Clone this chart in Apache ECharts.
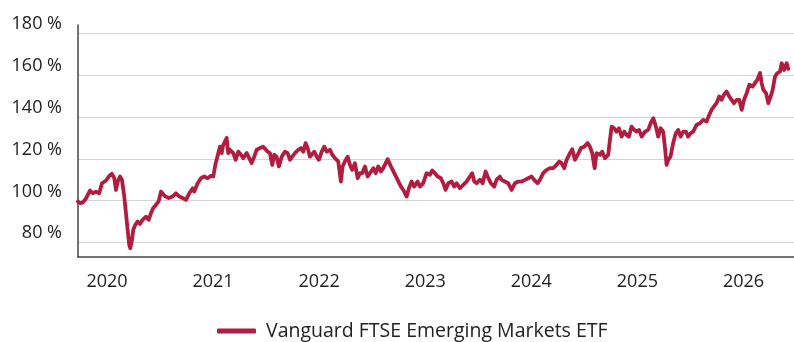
<!DOCTYPE html>
<html>
<head>
<meta charset="utf-8">
<script src="https://cdn.jsdelivr.net/npm/echarts@6/dist/echarts.min.js"></script>
<style>
  html, body { margin: 0; padding: 0; background: #fff; }
  #chart { width: 794px; height: 342px; }
</style>
</head>
<body>
<div id="chart"></div>
<script>
// Time as fractional calendar year, value as % of starting level
const years = [
  2019.727, 2019.746, 2019.771, 2019.802, 2019.840, 2019.865, 2019.896, 2019.927, 2019.953, 2019.991,
  2020.022, 2020.047, 2020.069, 2020.085, 2020.101, 2020.123, 2020.141, 2020.163, 2020.179, 2020.195,
  2020.210, 2020.220, 2020.236, 2020.248, 2020.267, 2020.289, 2020.311, 2020.336, 2020.368, 2020.393,
  2020.415, 2020.436, 2020.462, 2020.487, 2020.509, 2020.525, 2020.549, 2020.582, 2020.619, 2020.650,
  2020.681, 2020.713, 2020.745, 2020.776, 2020.808, 2020.823, 2020.855, 2020.886, 2020.917, 2020.949,
  2020.980, 2021.002, 2021.021, 2021.065, 2021.081, 2021.096, 2021.128, 2021.143, 2021.159, 2021.190,
  2021.213, 2021.238, 2021.263, 2021.285, 2021.317, 2021.332, 2021.364, 2021.388, 2021.411, 2021.442,
  2021.473, 2021.489, 2021.515, 2021.536, 2021.558, 2021.577, 2021.599, 2021.621, 2021.647, 2021.678,
  2021.703, 2021.725, 2021.747, 2021.772, 2021.803, 2021.828, 2021.850, 2021.873, 2021.892, 2021.913,
  2021.929, 2021.954, 2021.977, 2021.998, 2022.024, 2022.048, 2022.071, 2022.102, 2022.124, 2022.149,
  2022.180, 2022.205, 2022.221, 2022.243, 2022.269, 2022.290, 2022.312, 2022.337, 2022.363, 2022.385,
  2022.406, 2022.432, 2022.457, 2022.479, 2022.510, 2022.533, 2022.557, 2022.583, 2022.604, 2022.627,
  2022.646, 2022.677, 2022.708, 2022.740, 2022.771, 2022.802, 2022.825, 2022.846, 2022.872, 2022.896,
  2022.928, 2022.950, 2022.981, 2023.013, 2023.044, 2023.066, 2023.091, 2023.117, 2023.148, 2023.170,
  2023.192, 2023.217, 2023.249, 2023.273, 2023.296, 2023.327, 2023.358, 2023.390, 2023.421, 2023.443,
  2023.462, 2023.484, 2023.516, 2023.541, 2023.569, 2023.588, 2023.619, 2023.650, 2023.673, 2023.704,
  2023.720, 2023.751, 2023.782, 2023.814, 2023.845, 2023.877, 2023.909, 2023.940, 2023.971, 2024.003,
  2024.027, 2024.059, 2024.081, 2024.112, 2024.144, 2024.175, 2024.206, 2024.238, 2024.263, 2024.285,
  2024.310, 2024.333, 2024.364, 2024.386, 2024.411, 2024.437, 2024.468, 2024.499, 2024.531, 2024.552,
  2024.574, 2024.597, 2024.615, 2024.647, 2024.668, 2024.694, 2024.725, 2024.741, 2024.757, 2024.781,
  2024.803, 2024.826, 2024.851, 2024.876, 2024.898, 2024.920, 2024.945, 2024.970, 2024.993, 2025.015,
  2025.040, 2025.071, 2025.102, 2025.125, 2025.150, 2025.174, 2025.196, 2025.219, 2025.243, 2025.259,
  2025.275, 2025.290, 2025.312, 2025.337, 2025.362, 2025.384, 2025.407, 2025.431, 2025.457, 2025.478,
  2025.501, 2025.526, 2025.557, 2025.589, 2025.620, 2025.652, 2025.677, 2025.699, 2025.721, 2025.746,
  2025.771, 2025.794, 2025.815, 2025.840, 2025.865, 2025.888, 2025.910, 2025.935, 2025.960, 2025.983,
  2026.005, 2026.030, 2026.055, 2026.087, 2026.108, 2026.130, 2026.156, 2026.171, 2026.187, 2026.212,
  2026.234, 2026.256, 2026.275, 2026.297, 2026.319, 2026.344, 2026.360, 2026.382, 2026.407, 2026.422
];

const etfValues = [
  99.5, 98.8, 99.0, 101.0, 104.8, 103.5, 104.3, 103.5, 108.3, 109.6,
  111.8, 112.8, 110.7, 105.1, 109.0, 111.5, 110.0, 102.0, 94.0, 86.0,
  78.8, 77.2, 81.2, 86.0, 88.4, 90.0, 88.8, 90.8, 92.3, 90.8,
  94.0, 96.4, 98.0, 99.6, 104.3, 105.0, 102.0, 101.2, 102.0, 103.5,
  102.0, 101.2, 100.3, 103.5, 105.9, 104.3, 108.3, 110.7, 111.5, 110.7,
  111.8, 111.5, 117.0, 125.8, 122.7, 126.6, 129.9, 122.7, 124.3, 122.7,
  119.5, 123.4, 121.9, 120.3, 122.7, 121.9, 117.9, 121.0, 124.3, 125.1,
  125.8, 126.6, 123.4, 122.7, 117.1, 121.9, 121.0, 116.3, 121.0, 123.4,
  122.7, 119.5, 121.0, 122.7, 124.3, 125.1, 123.4, 127.5, 125.1, 121.0,
  120.3, 123.4, 121.0, 119.5, 123.4, 125.8, 123.4, 124.3, 121.9, 120.3,
  118.7, 109.1, 116.3, 118.7, 121.0, 117.1, 114.7, 117.9, 110.7, 113.1,
  113.1, 116.3, 111.5, 113.1, 115.5, 113.1, 116.3, 113.9, 115.5, 117.9,
  119.8, 116.3, 113.1, 109.9, 106.7, 104.3, 101.9, 105.9, 109.1, 106.7,
  109.1, 106.7, 108.3, 113.1, 112.3, 114.4, 113.1, 111.5, 110.7, 108.3,
  105.1, 108.3, 109.1, 106.7, 108.3, 105.9, 107.5, 109.1, 111.5, 113.1,
  109.1, 108.3, 110.0, 108.3, 113.9, 111.5, 108.3, 106.7, 110.0, 111.5,
  109.9, 109.1, 108.3, 105.1, 108.3, 109.1, 109.1, 109.9, 110.7, 111.5,
  109.9, 108.3, 109.9, 113.1, 114.7, 115.5, 115.5, 117.1, 118.7, 117.9,
  115.5, 119.5, 122.7, 124.6, 119.5, 121.9, 125.1, 125.8, 127.5, 125.8,
  122.7, 115.5, 122.7, 121.9, 123.4, 120.3, 121.9, 129.0, 135.4, 134.6,
  133.0, 134.6, 130.6, 133.0, 131.4, 130.6, 135.4, 133.8, 133.0, 133.8,
  130.6, 133.0, 133.8, 137.0, 139.4, 135.4, 130.6, 134.6, 133.0, 125.8,
  117.1, 119.5, 121.0, 127.5, 132.2, 133.8, 130.6, 133.0, 133.0, 130.6,
  132.2, 133.0, 136.2, 137.0, 138.6, 137.8, 141.0, 143.4, 145.0, 146.6,
  149.8, 148.2, 150.6, 152.2, 149.8, 148.2, 146.6, 148.2, 148.2, 143.4,
  148.2, 151.4, 155.4, 154.6, 156.2, 157.8, 161.0, 156.2, 153.0, 151.4,
  146.6, 149.8, 153.0, 159.3, 161.0, 161.7, 165.7, 162.5, 165.7, 163.0
];

const yearTicks = [2020, 2021, 2022, 2023, 2024, 2025, 2026];
const percentTicks = [80, 100, 120, 140, 160, 180];
const seriesName = 'Vanguard FTSE Emerging Markets ETF';

const FONT = '"Open Sans", "Noto Sans", sans-serif';
const LINE_COLOR = '#b21c3e';
const TEXT_COLOR = '#222';

const chart = echarts.init(document.getElementById('chart'), null, { renderer: 'canvas' });

chart.setOption({
  animation: false,
  backgroundColor: '#ffffff',
  textStyle: { fontFamily: FONT },
  grid: { left: 78, right: 0, top: 25, bottom: 85, containLabel: false },
  legend: {
    data: [seriesName],
    left: 212,
    top: 316,
    icon: 'roundRect',
    itemWidth: 39,
    itemHeight: 5,
    itemGap: 10,
    textStyle: { fontFamily: FONT, fontSize: 19.5, color: TEXT_COLOR, padding: [0, 0, 0, 5] }
  },
  xAxis: {
    type: 'value',
    min: 2019.727,
    max: 2026.476,
    axisLine: { show: true, lineStyle: { color: '#444', width: 1.5 } },
    axisTick: { show: false, customValues: yearTicks },
    splitLine: { show: false },
    axisLabel: {
      customValues: yearTicks,
      formatter: v => String(Math.round(v)),
      fontFamily: FONT,
      fontSize: 18,
      color: TEXT_COLOR,
      margin: 16
    }
  },
  yAxis: {
    type: 'value',
    min: 73,
    max: 184,
    axisLine: { show: true, lineStyle: { color: '#444', width: 1.5 } },
    axisTick: { show: false, customValues: percentTicks },
    splitLine: { show: true, lineStyle: { color: '#d4d4d4', width: 1.2 } },
    axisLabel: {
      customValues: percentTicks,
      formatter: v => v + ' %',
      fontFamily: FONT,
      fontSize: 18,
      color: TEXT_COLOR,
      margin: 16,
      verticalAlign: 'bottom'
    }
  },
  series: [{
    name: seriesName,
    type: 'line',
    data: years.map((t, i) => [t, etfValues[i]]),
    showSymbol: false,
    symbol: 'none',
    lineStyle: { color: LINE_COLOR, width: 3.8, join: 'round', cap: 'round' },
    itemStyle: { color: LINE_COLOR }
  }]
});
</script>
</body>
</html>
